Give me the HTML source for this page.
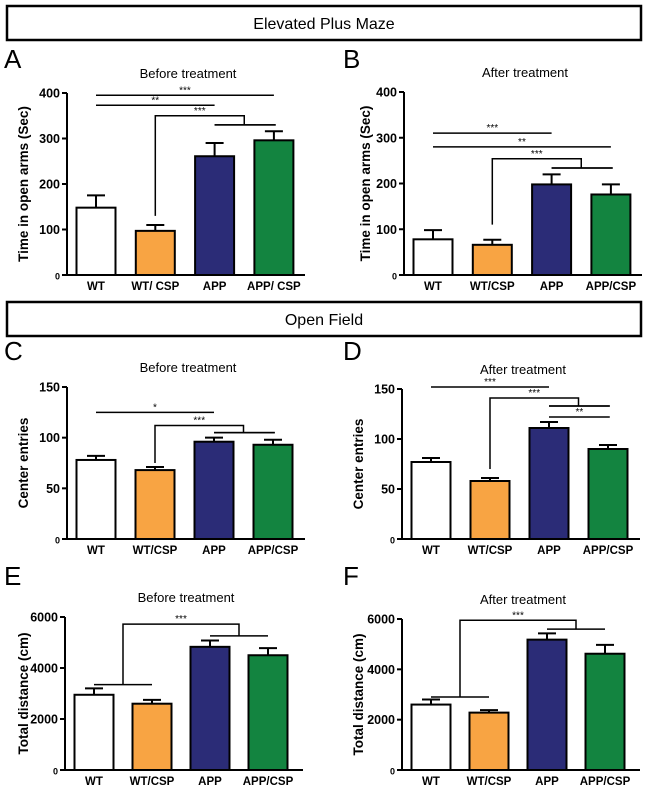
<!DOCTYPE html>
<html><head><meta charset="utf-8"><style>
body{margin:0;background:#fff}
svg text{font-family:"Liberation Sans",sans-serif}
</style></head><body>
<svg id="fig" width="650" height="796" viewBox="0 0 650 796" xmlns="http://www.w3.org/2000/svg">
<rect x="7" y="6" width="634" height="34" fill="#fff" stroke="#000" stroke-width="2.5"/>
<text x="324" y="29" font-size="16" text-anchor="middle">Elevated Plus Maze</text>
<rect x="7" y="302" width="634" height="34" fill="#fff" stroke="#000" stroke-width="2.5"/>
<text x="324" y="325" font-size="16" text-anchor="middle">Open Field</text>
</svg>
<script>
const categories=["WT","WT/CSP","APP","APP/CSP"];
const labelsA=["WT","WT/ CSP","APP","APP/ CSP"];
const colors=["#ffffff","#f8a443","#2b2c77","#138440"];
const valuesA=[148,97,261,296], errA=[27,13,29,20];
const valuesB=[78,66,198,176], errB=[20,11,22,22];
const valuesC=[78,68,96,93], errC=[4,3,4,5];
const valuesD=[77,58,111,90], errD=[4,3,6,4];
const valuesE=[2950,2600,4830,4500], errE=[250,150,250,280];
const valuesF=[2600,2280,5180,4620], errF=[200,100,250,350];
const ticksAB=[0,100,200,300,400], ticksCD=[0,50,100,150], ticksEF=[0,2000,4000,6000];
const svg=document.getElementById('fig');const NS="http://www.w3.org/2000/svg";
function mk(t,a,name,txt){const e=document.createElementNS(NS,t);for(const k in a)e.setAttribute(k,a[k]);


if(txt!==undefined)e.textContent=txt;svg.appendChild(e);return e;}
function panel(p){
 const max=p.ticks[p.ticks.length-1];
 const y=v=>p.bot-(v/max)*(p.bot-p.top);
 const x=i=>p.ax+29+i*p.sp;
 mk('text',{x:p.lx,y:p.ly,'font-size':26},'panel-letter',p.letter);
 mk('text',{x:p.ax+121,y:p.top-15,'font-size':13,'text-anchor':'middle'},'chart-title',p.title);
 mk('text',{x:0,y:0,'font-size':13.5,'font-weight':'bold','text-anchor':'middle',transform:`translate(${p.yl},${(p.top+p.bot)/2}) rotate(-90)`},'y-axis-title',p.ytitle);
 mk('line',{x1:p.ax,y1:p.top,x2:p.ax,y2:p.bot,stroke:'#000','stroke-width':2},'y-axis');
 mk('line',{x1:p.ax,y1:p.bot,x2:p.ax+238,y2:p.bot,stroke:'#000','stroke-width':2},'x-axis');
 p.ticks.forEach(t=>{mk('line',{x1:p.ax-5,y1:y(t),x2:p.ax,y2:y(t),stroke:'#000','stroke-width':2},'y-tick');
  mk('text',{x:p.ax-7,y:y(t)+4.5,'font-size':t===0?9:12.5,'font-weight':'bold','text-anchor':'end'},'y-tick-label',t);});
 p.vals.forEach((v,i)=>{const cx=x(i),w=39;
  mk('line',{x1:cx,y1:y(v),x2:cx,y2:y(v+p.err[i]),stroke:'#000','stroke-width':2},'error-bar');
  mk('line',{x1:cx-9,y1:y(v+p.err[i]),x2:cx+9,y2:y(v+p.err[i]),stroke:'#000','stroke-width':2},'error-cap');
  mk('rect',{x:cx-w/2,y:y(v),width:w,height:p.bot-y(v),fill:colors[i],stroke:'#000','stroke-width':2},'bar-'+categories[i].toLowerCase().replace('/','-'));
  mk('text',{x:cx,y:p.bot+15,'font-size':11.5,'font-weight':'bold','text-anchor':'middle'},'x-tick-label',p.labels[i]);});
 (p.lines||[]).forEach(l=>{mk('line',{x1:x(l[0]),y1:y(l[2]),x2:x(l[1]),y2:y(l[2]),stroke:'#000','stroke-width':1.5},'significance-line');
  mk('text',{x:(x(l[0])+x(l[1]))/2,y:y(l[2])-2,'font-size':10,'text-anchor':'middle'},'significance-stars',l[3]);});
 (p.br||[]).forEach(b=>{const [a1,a2,lowL,top,b1,b2,lowR,lab]=b;const mL=(x(a1)+x(a2))/2,mR=(x(b1)+x(b2))/2;
  if(a1!==a2)mk('line',{x1:x(a1),y1:y(lowL),x2:x(a2),y2:y(lowL),stroke:'#000','stroke-width':1.5},'bracket-left');
  mk('polyline',{points:`${mL},${y(lowL)} ${mL},${y(top)} ${mR},${y(top)} ${mR},${y(lowR)}`,fill:'none',stroke:'#000','stroke-width':1.5},'bracket');
  mk('line',{x1:x(b1),y1:y(lowR),x2:x(b2),y2:y(lowR),stroke:'#000','stroke-width':1.5},'bracket-right');
  mk('text',{x:(mL+mR)/2,y:y(top)-2,'font-size':10,'text-anchor':'middle'},'significance-stars',lab);});
}
panel({letter:'A',lx:4,ly:68,title:'Before treatment',ytitle:'Time in open arms (Sec)',yl:28,ax:67,top:93,bot:275,sp:59.3,ticks:ticksAB,vals:valuesA,err:errA,labels:labelsA,
 lines:[[0,3,395,'***'],[0,2,373,'**']],br:[[1,1,130,350,2.5,2.5,330,'***'],[2,3.03,330,330,2,3.03,330,'']]});
panel({letter:'B',lx:343,ly:68,title:'After treatment',ytitle:'Time in open arms (Sec)',yl:370,ax:404,top:92,bot:275,sp:59.3,ticks:ticksAB,vals:valuesB,err:errB,labels:categories,
 lines:[[0,2,310,'***'],[0,3,280,'**']],br:[[1,1,110,254,2.5,2.5,234,'***'],[2,3.03,234,234,2,3.03,234,'']]});
panel({letter:'C',lx:4,ly:360,title:'Before treatment',ytitle:'Center entries',yl:28,ax:67,top:387,bot:539,sp:59,ticks:ticksCD,vals:valuesC,err:errC,labels:categories,
 lines:[[0,2,125,'*']],br:[[1,1,75,112,2.5,2.5,105,'***'],[2,3.03,105,105,2,3.03,105,'']]});
panel({letter:'D',lx:343,ly:360,title:'After treatment',ytitle:'Center entries',yl:363,ax:402,top:389,bot:539,sp:59,ticks:ticksCD,vals:valuesD,err:errD,labels:categories,
 lines:[[0,2,152,'***'],[2,3.03,122,'**']],br:[[1,1,70,141,2.5,2.5,133,'***'],[2,3.03,133,133,2,3.03,133,'']]});
panel({letter:'E',lx:4,ly:585,title:'Before treatment',ytitle:'Total distance (cm)',yl:28,ax:65,top:617,bot:770,sp:58,ticks:ticksEF,vals:valuesE,err:errE,labels:categories,
 br:[[0,1,3350,5720,2,3,5260,'***']]});
panel({letter:'F',lx:343,ly:585,title:'After treatment',ytitle:'Total distance (cm)',yl:363,ax:402,top:619,bot:770,sp:58,ticks:ticksEF,vals:valuesF,err:errF,labels:categories,
 br:[[0,1,2900,5950,2,3,5600,'***']]});
</script>
</body></html>
